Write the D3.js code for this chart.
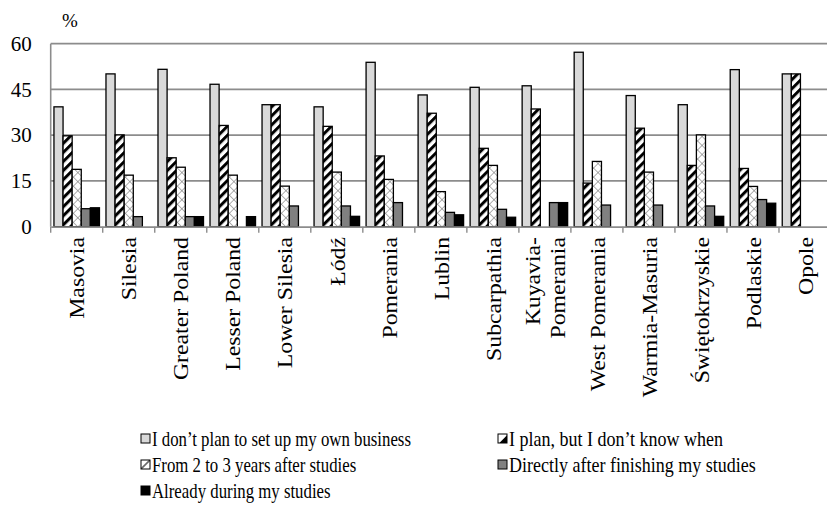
<!DOCTYPE html>
<html>
<head>
<meta charset="utf-8">
<script src="https://cdn.jsdelivr.net/npm/d3@7"></script>
<style>
  html, body { margin: 0; padding: 0; background: #fff; }
  svg { display: block; }
</style>
</head>
<body>
<svg id="chart" width="827" height="517"></svg>
<script>
// Voivodeships on the category axis
const regions = ["Masovia", "Silesia", "Greater Poland", "Lesser Poland", "Lower Silesia",
  "Łódź", "Pomerania", "Lublin", "Subcarpathia", "Kuyavia-Pomerania", "West Pomerania",
  "Warmia-Masuria", "Świętokrzyskie", "Podlaskie", "Opole"];

// Series names (legend order)
const seriesNames = [
  "I don’t plan to set up my own business",
  "I plan, but I don’t know when",
  "From 2 to 3 years after studies",
  "Directly after finishing my studies",
  "Already during my studies"
];

// Share of respondents (%) per region, one array per series
const noPlan      = [39.3, 50.1, 51.6, 46.7, 40.0, 39.3, 53.9, 43.2, 45.7, 46.2, 57.2, 43.0, 40.0, 51.5, 50.1];
const planUnknown = [29.8, 30.1, 22.6, 33.2, 40.0, 32.9, 23.2, 37.2, 25.7, 38.6, 14.3, 32.3, 20.1, 19.1, 50.1];
const twoToThree  = [18.8, 16.9, 19.5, 16.9, 13.3, 17.9, 15.5, 11.5, 20.1, 0,    21.4, 17.9, 30.1, 13.2, 0];
const directly    = [5.9,  3.3,  3.3,  0,    6.8,  6.8,  7.9,  4.7,  5.7,  7.9,  7.1,  7.1,  6.8,  8.9,  0];
const during      = [6.2,  0,    3.3,  3.3,  0,    3.4,  0,    3.9,  3.1,  7.9,  0,    0,    3.4,  7.7,  0];

const yTicks = [0, 15, 30, 45, 60];

const seriesValues = [noPlan, planUnknown, twoToThree, directly, during];
const seriesIds = ["s0", "s1", "s2", "s3", "s4"];

const FONT = "'Liberation Serif', 'DejaVu Serif', 'Times New Roman', serif";

const svg = d3.select("#chart");

// Fill patterns for the bars
const defs = svg.append("defs");
const hatch = defs.append("pattern")
  .attr("id", "hatch").attr("patternUnits", "userSpaceOnUse")
  .attr("width", 6.4).attr("height", 6.4)
  .attr("patternTransform", "rotate(45)");
hatch.append("rect").attr("width", 6.4).attr("height", 6.4).attr("fill", "#fff");
hatch.append("rect").attr("x", 0).attr("width", 3.0).attr("height", 6.4).attr("fill", "#000");

const cross = defs.append("pattern")
  .attr("id", "cross").attr("patternUnits", "userSpaceOnUse")
  .attr("width", 6.4).attr("height", 6.4)
  .attr("patternTransform", "rotate(45)");
cross.append("rect").attr("width", 6.4).attr("height", 6.4).attr("fill", "#fff");
cross.append("line").attr("x1", 0).attr("y1", 0).attr("x2", 6.4).attr("y2", 0)
  .attr("stroke", "#7a7a7a").attr("stroke-width", 1.2);
cross.append("line").attr("x1", 0).attr("y1", 0).attr("x2", 0).attr("y2", 6.4)
  .attr("stroke", "#7a7a7a").attr("stroke-width", 1.2);

// Small legend swatches show a single repeat of each pattern
const hatchKey = defs.append("pattern")
  .attr("id", "hatchKey").attr("patternUnits", "objectBoundingBox")
  .attr("patternContentUnits", "objectBoundingBox")
  .attr("width", 1).attr("height", 1);
hatchKey.append("rect").attr("width", 1).attr("height", 1).attr("fill", "#fff");
hatchKey.append("polygon").attr("points", "0.15,1 1,0.15 1,1").attr("fill", "#000");

const crossKey = defs.append("pattern")
  .attr("id", "crossKey").attr("patternUnits", "objectBoundingBox")
  .attr("patternContentUnits", "objectBoundingBox")
  .attr("width", 1).attr("height", 1);
crossKey.append("rect").attr("width", 1).attr("height", 1).attr("fill", "#fff");
crossKey.append("line").attr("x1", 0).attr("y1", 1).attr("x2", 1).attr("y2", 0)
  .attr("stroke", "#6a6a6a").attr("stroke-width", 0.18);

const fills = {
  s0: "#d9d9d9",
  s1: "url(#hatch)",
  s2: "url(#cross)",
  s3: "#808080",
  s4: "#000000"
};
const keyFills = Object.assign({}, fills, { s1: "url(#hatchKey)", s2: "url(#crossKey)" });

// Plot area
const plotLeft = 50.7, plotTop = 43.7, plotBottom = 226.7, step = 52.02;
const x0 = d3.scaleBand().domain(regions)
  .range([plotLeft, plotLeft + step * regions.length]).paddingInner(0).paddingOuter(0);
const x1 = d3.scaleBand().domain(seriesIds)
  .range([0, x0.bandwidth()]).paddingInner(0).paddingOuter(0.358);
const y = d3.scaleLinear().domain([0, 60]).range([plotBottom, plotTop]);

// Horizontal gridlines
svg.append("g").selectAll("line").data(yTicks.filter(d => d > 0)).join("line")
  .attr("x1", plotLeft).attr("x2", 827)
  .attr("y1", d => y(d)).attr("y2", d => y(d))
  .attr("stroke", "#8c8c8c").attr("stroke-width", 1.8);

// Y axis labels
const yAxis = svg.append("g").attr("transform", `translate(${plotLeft},0)`)
  .call(d3.axisLeft(y).tickValues(yTicks).tickSize(0).tickPadding(19));
yAxis.attr("font-family", FONT).attr("font-size", 21);
yAxis.select(".domain").remove();
yAxis.selectAll("text").attr("fill", "#000");

svg.append("text").attr("x", 70).attr("y", 27)
  .attr("text-anchor", "middle")
  .attr("font-family", FONT).attr("font-size", 19).text("%");

// Bars
const groups = svg.append("g").selectAll("g").data(regions).join("g")
  .attr("transform", d => `translate(${x0(d)},0)`);
groups.selectAll("rect")
  .data((d, i) => seriesIds.map((s, k) => ({ s, v: seriesValues[k][i] })).filter(e => e.v > 0))
  .join("rect")
  .attr("x", d => x1(d.s))
  .attr("y", d => y(d.v))
  .attr("width", x1.bandwidth())
  .attr("height", d => y(0) - y(d.v))
  .attr("fill", d => fills[d.s])
  .attr("stroke", "#000").attr("stroke-width", 1.3);

// Y axis line and category axis
svg.append("line").attr("x1", plotLeft).attr("x2", plotLeft).attr("y1", plotTop).attr("y2", plotBottom)
  .attr("stroke", "#8c8c8c").attr("stroke-width", 1.6);
const xAxis = svg.append("g").attr("transform", `translate(0,${plotBottom})`)
  .call(d3.axisBottom(x0).tickSize(0).tickFormat(""));
xAxis.select(".domain").attr("stroke", "#8c8c8c").attr("stroke-width", 1.8);
xAxis.selectAll(".tick").remove();

// Category separators below the axis
svg.append("g").selectAll("line").data(regions).join("line")
  .attr("x1", d => x0(d)).attr("x2", d => x0(d))
  .attr("y1", plotBottom).attr("y2", plotBottom + 6)
  .attr("stroke", "#8c8c8c").attr("stroke-width", 1.4);

// Rotated category labels (slightly elongated along the reading direction)
const labels = svg.append("g")
  .attr("font-family", FONT).attr("font-size", 22)
  .selectAll("text").data(regions).join("text")
  .attr("transform", d => `translate(${x0(d) + x0.bandwidth() / 2},237) rotate(-90) scale(1.08,1)`)
  .attr("text-anchor", "end");
labels.each(function (d) {
  const parts = d === "Kuyavia-Pomerania" ? ["Kuyavia-", "Pomerania"] : [d];
  const t = d3.select(this);
  parts.forEach((p, i) => {
    t.append("tspan").attr("x", 0)
      .attr("dy", i === 0 ? (parts.length === 1 ? "0.35em" : "-0.22em") : "1.15em")
      .text(p);
  });
});

// Legend (text slightly condensed horizontally)
const legendItems = seriesIds.map((s, k) => ({
  s, name: seriesNames[k],
  x: k % 2 === 0 ? 141 : 498,
  y: 439 + Math.floor(k / 2) * 26
}));
const lg = svg.append("g")
  .attr("font-family", FONT).attr("font-size", 20)
  .selectAll("g").data(legendItems).join("g")
  .attr("transform", d => `translate(${d.x},${d.y})`);
lg.append("rect").attr("x", 0).attr("y", -5).attr("width", 9).attr("height", 9)
  .attr("fill", d => keyFills[d.s]).attr("stroke", "#000").attr("stroke-width", 1);
lg.append("text")
  .attr("transform", d => `translate(11,0) scale(${d.x > 300 ? 0.9 : 0.84},1)`)
  .attr("dy", "0.35em")
  .text(d => d.name);
</script>
</body>
</html>
